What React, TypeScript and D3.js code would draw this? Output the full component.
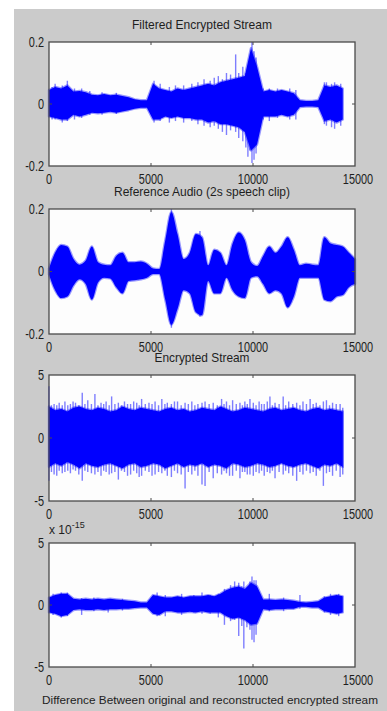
import React, { useEffect, useRef } from 'react';
import * as d3 from 'd3';

const WIDTH = 387;
const HEIGHT = 711;

// envelope samples are taken every STEP points of the signal
const STEP = 300;

const X_TICKS = [0, 5000, 10000, 15000];
const AUDIO_TICKS = [-0.2, 0, 0.2];
const STREAM_TICKS = [-5, 0, 5];

const filteredUpper = [0.045, 0.055, 0.05, 0.06, 0.04, 0.042, 0.038, 0.03, 0.028, 0.032, 0.028, 0.03, 0.026, 0.022, 0.015, 0.012, 0.012, 0.065, 0.05, 0.045, 0.04, 0.05, 0.045, 0.05, 0.055, 0.06, 0.065, 0.06, 0.07, 0.075, 0.08, 0.085, 0.09, 0.18, 0.12, 0.04, 0.045, 0.04, 0.045, 0.04, 0.035, 0.012, 0.01, 0.01, 0.012, 0.06, 0.055, 0.06, 0.05];
const filteredLower = [-0.04, -0.045, -0.05, -0.05, -0.035, -0.04, -0.035, -0.028, -0.03, -0.028, -0.025, -0.028, -0.024, -0.02, -0.015, -0.012, -0.012, -0.05, -0.05, -0.04, -0.045, -0.04, -0.045, -0.045, -0.05, -0.05, -0.06, -0.055, -0.065, -0.065, -0.07, -0.075, -0.09, -0.15, -0.13, -0.04, -0.04, -0.04, -0.035, -0.04, -0.035, -0.01, -0.008, -0.008, -0.01, -0.055, -0.05, -0.06, -0.05];
const filteredSpikes: [number, number, number][] = [[150, 0.055, -0.05], [300, 0.065, -0.05], [650, 0.06, -0.06], [900, 0.075, -0.055], [1250, 0.05, -0.05], [1600, 0.05, -0.045], [2000, 0.042, -0.035], [2600, 0.038, -0.035], [3300, 0.036, -0.032], [5150, 0.075, -0.06], [5450, 0.065, -0.055], [5900, 0.055, -0.06], [6200, 0.06, -0.055], [6600, 0.06, -0.06], [7000, 0.065, -0.055], [7300, 0.07, -0.065], [7600, 0.08, -0.07], [7900, 0.075, -0.075], [8100, 0.085, -0.07], [8300, 0.09, -0.08], [8500, 0.08, -0.09], [8700, 0.1, -0.1], [8900, 0.095, -0.085], [9150, 0.16, -0.09], [9300, 0.1, -0.11], [9500, 0.12, -0.12], [9650, 0.1, -0.14], [9750, 0.11, -0.17], [9850, 0.14, -0.15], [9950, 0.2, -0.19], [10050, 0.17, -0.18], [10150, 0.15, -0.16], [10500, 0.05, -0.05], [10800, 0.05, -0.055], [11200, 0.05, -0.045], [11800, 0.05, -0.05], [12100, 0.045, -0.05], [13500, 0.07, -0.065], [13600, 0.07, -0.07], [13850, 0.065, -0.075], [14000, 0.07, -0.08], [14300, 0.065, -0.07]];

const referenceUpper = [0.01, 0.06, 0.085, 0.08, 0.04, 0.022, 0.035, 0.08, 0.03, 0.022, 0.02, 0.05, 0.06, 0.03, 0.03, 0.032, 0.025, 0.01, 0.008, 0.1, 0.19, 0.12, 0.04, 0.06, 0.12, 0.11, 0.02, 0.07, 0.06, 0.02, 0.09, 0.125, 0.1, 0.03, 0.018, 0.05, 0.08, 0.06, 0.08, 0.11, 0.07, 0.02, 0.025, 0.022, 0.02, 0.11, 0.09, 0.085, 0.08, 0.06, 0.04];
const referenceLower = [-0.01, -0.06, -0.085, -0.08, -0.045, -0.025, -0.04, -0.09, -0.035, -0.02, -0.022, -0.05, -0.07, -0.03, -0.028, -0.025, -0.02, -0.008, -0.008, -0.09, -0.17, -0.12, -0.06, -0.07, -0.13, -0.14, -0.03, -0.07, -0.07, -0.02, -0.06, -0.08, -0.085, -0.02, -0.015, -0.04, -0.07, -0.06, -0.07, -0.115, -0.08, -0.02, -0.02, -0.02, -0.02, -0.09, -0.095, -0.08, -0.075, -0.05, -0.04];
const referenceSpikes: [number, number, number][] = [[6000, 0.2, -0.18], [7400, 0.13, -0.145]];

const encryptedUpper = [2.5, 2.2, 2.3, 2.1, 2.4, 2.5, 2.3, 2.2, 2.4, 2.3, 2.1, 2.2, 2.5, 2.3, 2.2, 2.4, 2.3, 2.2, 2.1, 2.3, 2.4, 2.2, 2.3, 2.1, 2.2, 2.4, 2.3, 2.2, 2.5, 2.3, 2.1, 2.2, 2.4, 2.3, 2.2, 2.1, 2.3, 2.4, 2.2, 2.3, 2.4, 2.2, 2.1, 2.3, 2.4, 2.2, 2.3, 2.2, 2.1];
const encryptedLower = [-2.3, -2.0, -2.2, -1.9, -2.1, -2.4, -2.0, -2.2, -2.3, -2.1, -2.0, -2.2, -2.4, -2.1, -2.0, -2.3, -2.2, -2.0, -2.1, -2.4, -2.2, -2.0, -2.3, -2.1, -2.2, -2.0, -2.3, -2.1, -2.2, -2.4, -2.0, -2.1, -2.3, -2.2, -2.0, -2.1, -2.3, -2.2, -2.0, -2.2, -2.3, -2.1, -2.0, -2.2, -2.4, -2.1, -2.2, -2.0, -2.3];
const encryptedSpikes: [number, number, number][] = [[0, 4.1, -3.4], [120, 2.6, -2.7], [250, 2.7, -2.9], [380, 2.6, -3.0], [500, 2.8, -2.6], [650, 2.6, -2.8], [780, 2.9, -2.7], [920, 2.6, -2.6], [1050, 2.7, -2.8], [1180, 2.9, -2.5], [1300, 2.8, -2.6], [1460, 2.6, -2.9], [1630, 3.6, -3.4], [1760, 2.7, -2.6], [1900, 3.0, -2.7], [2080, 2.7, -2.8], [2250, 3.5, -2.9], [2400, 2.6, -2.7], [2550, 2.8, -3.0], [2680, 2.7, -2.6], [2800, 2.9, -2.7], [2950, 2.6, -2.9], [3070, 3.3, -2.8], [3230, 2.7, -2.7], [3400, 2.8, -3.3], [3550, 2.6, -2.6], [3700, 2.9, -2.7], [3850, 2.7, -3.0], [4000, 2.7, -2.9], [4150, 2.9, -2.6], [4300, 2.8, -2.8], [4420, 2.6, -3.1], [4540, 3.1, -3.0], [4720, 2.7, -2.6], [4900, 2.8, -2.7], [5050, 2.7, -3.0], [5200, 2.9, -2.9], [5370, 2.6, -2.7], [5530, 3.1, -2.8], [5680, 2.7, -2.6], [5800, 2.8, -3.0], [6000, 2.7, -3.1], [6150, 2.9, -2.6], [6300, 2.9, -2.8], [6480, 2.6, -2.9], [6670, 2.8, -4.0], [6830, 2.7, -2.7], [7000, 2.9, -2.9], [7150, 2.6, -2.6], [7300, 2.7, -3.0], [7500, 2.8, -3.7], [7650, 2.9, -3.8], [7850, 2.7, -2.7], [8050, 2.8, -3.2], [8250, 2.6, -2.8], [8460, 3.1, -2.9], [8580, 2.7, -2.6], [8700, 2.9, -2.8], [8850, 2.6, -3.0], [9000, 3.0, -3.0], [9180, 2.7, -2.6], [9360, 2.8, -3.2], [9480, 2.6, -2.7], [9600, 2.9, -2.7], [9720, 2.7, -2.9], [9850, 3.1, -2.9], [10015, 2.8, -3.0], [10150, 2.6, -2.7], [10300, 2.9, -2.8], [10420, 2.7, -2.6], [10550, 2.7, -3.0], [10700, 2.9, -2.7], [10830, 3.3, -2.8], [10950, 2.6, -2.6], [11080, 2.8, -3.2], [11280, 2.7, -2.7], [11480, 3.3, -2.9], [11600, 2.6, -2.6], [11750, 2.9, -2.8], [11950, 2.7, -3.0], [12140, 2.8, -3.4], [12300, 2.6, -2.7], [12450, 2.9, -2.9], [12620, 2.7, -2.6], [12800, 3.1, -2.8], [12950, 2.7, -2.7], [13100, 2.8, -3.0], [13280, 2.6, -2.6], [13450, 2.9, -3.8], [13600, 3.0, -2.8], [13750, 2.6, -2.7], [13900, 2.8, -3.0], [14080, 2.7, -2.6], [14270, 2.7, -3.1], [14400, 2.4, -2.9]];

// difference values are in units of 1e-15
const differenceUpper = [0.6, 0.8, 0.9, 0.9, 0.5, 0.45, 0.5, 0.45, 0.5, 0.45, 0.5, 0.45, 0.4, 0.35, 0.3, 0.2, 0.2, 0.8, 0.7, 0.6, 0.6, 0.7, 0.6, 0.7, 0.7, 0.7, 0.8, 0.7, 0.9, 1.2, 1.4, 1.5, 1.3, 1.8, 1.5, 0.45, 0.45, 0.4, 0.45, 0.4, 0.35, 0.25, 0.2, 0.25, 0.3, 0.6, 0.7, 0.8, 0.7];
const differenceLower = [-0.6, -0.7, -0.9, -0.8, -0.4, -0.35, -0.4, -0.4, -0.35, -0.4, -0.35, -0.35, -0.3, -0.3, -0.25, -0.2, -0.2, -0.7, -0.8, -0.5, -0.5, -0.6, -0.6, -0.55, -0.6, -0.5, -0.6, -0.6, -0.6, -0.9, -1.1, -1.0, -1.2, -1.6, -1.5, -0.35, -0.4, -0.35, -0.35, -0.3, -0.3, -0.15, -0.15, -0.2, -0.2, -0.5, -0.6, -0.7, -0.6];
const differenceSpikes: [number, number, number][] = [[200, 0.9, -0.8], [600, 1.0, -1.0], [900, 1.0, -0.9], [1600, 0.55, -0.8], [2200, 0.6, -0.5], [2900, 0.5, -0.6], [3600, 0.5, -0.45], [5300, 1.0, -0.9], [5700, 0.8, -0.9], [6500, 0.9, -0.8], [7100, 0.8, -0.6], [7500, 1.0, -0.7], [7900, 0.8, -0.7], [8300, 0.9, -1.0], [8600, 1.3, -1.6], [8900, 1.6, -1.3], [9100, 1.9, -1.2], [9300, 1.8, -2.5], [9450, 1.5, -1.7], [9550, 1.9, -3.5], [9700, 1.3, -1.8], [9850, 1.9, -2.0], [9950, 2.3, -2.8], [10050, 2.0, -3.0], [10150, 2.0, -2.4], [10800, 0.9, -0.5], [11500, 0.6, -0.5], [12300, 0.8, -0.3], [13500, 0.7, -0.6], [13800, 0.9, -0.8], [14200, 0.9, -0.9]];

const TITLES = ['Filtered Encrypted Stream', 'Reference Audio (2s speech clip)', 'Encrypted Stream'];
const X_LABEL = 'Difference Between original and reconstructed encrypted stream';

const FONT = "'Liberation Sans', Arial, sans-serif";
const BLUE = '#0000ff';
const INK = '#1e1e1e';

// squeeze a text node so it looks like the narrow MATLAB font
function narrow(node: SVGTextElement | null, factor: number, width?: number) {
  if (!node) return;
  const w = width ?? node.getComputedTextLength() * factor;
  node.setAttribute('textLength', String(w));
  node.setAttribute('lengthAdjust', 'spacingAndGlyphs');
}

const App: React.FC = () => {
  const svgRef = useRef<SVGSVGElement>(null);

  useEffect(() => {
    if (!svgRef.current) return;
    const svg = d3.select(svgRef.current);
    svg.selectAll('*').remove();

    // figure background
    svg.append('rect').attr('x', 14).attr('y', 9).attr('width', WIDTH - 14).attr('height', HEIGHT - 9).attr('fill', '#cbcbcb');

    const left = 49;
    const right = 355;
    const x = d3.scaleLinear().domain([0, 15000]).range([left, right]);

    const panels = [
      { title: TITLES[0], upper: filteredUpper, lower: filteredLower, spikes: filteredSpikes, ticks: AUDIO_TICKS, top: 42, bottom: 166, titleY: 29, titleW: 140, smooth: false },
      { title: TITLES[1], upper: referenceUpper, lower: referenceLower, spikes: referenceSpikes, ticks: AUDIO_TICKS, top: 209, bottom: 334, titleY: 196, titleW: 176, smooth: true },
      { title: TITLES[2], upper: encryptedUpper, lower: encryptedLower, spikes: encryptedSpikes, ticks: STREAM_TICKS, top: 375, bottom: 501, titleY: 362, titleW: 95, smooth: false },
      { title: '', upper: differenceUpper, lower: differenceLower, spikes: differenceSpikes, ticks: STREAM_TICKS, top: 543, bottom: 667, titleY: 0, titleW: 0, smooth: false },
    ];

    panels.forEach((p) => {
      const y = d3.scaleLinear().domain([p.ticks[0], p.ticks[2]]).range([p.bottom, p.top]);
      const g = svg.append('g');

      g.append('rect').attr('x', left).attr('y', p.top).attr('width', right - left).attr('height', p.bottom - p.top).attr('fill', '#fdfdfd');

      const area = d3.area<number>()
        .x((_, i) => x(i * STEP))
        .y0((_, i) => y(p.lower[i]))
        .y1((d) => y(d))
        .curve(p.smooth ? d3.curveMonotoneX : d3.curveLinear);

      g.selectAll('.spike')
        .data(p.spikes)
        .enter()
        .append('line')
        .attr('x1', (d) => x(d[0]))
        .attr('x2', (d) => x(d[0]))
        .attr('y1', (d) => y(d[1]))
        .attr('y2', (d) => y(d[2]))
        .attr('stroke', BLUE)
        .attr('stroke-opacity', 0.5)
        .attr('stroke-width', 1.4);

      g.append('path')
        .attr('d', area(p.upper))
        .attr('fill', BLUE)
        .attr('stroke', BLUE)
        .attr('stroke-opacity', 0.4)
        .attr('stroke-width', 2.4)
        .attr('stroke-linejoin', 'round');

      // box
      g.append('rect').attr('x', left).attr('y', p.top).attr('width', right - left).attr('height', p.bottom - p.top)
        .attr('fill', 'none').attr('stroke', '#4a4a4a').attr('stroke-width', 1.3);

      // inward tick marks
      X_TICKS.slice(1, 3).forEach((t) => {
        g.append('line').attr('x1', x(t)).attr('x2', x(t)).attr('y1', p.top).attr('y2', p.top + 3).attr('stroke', '#4a4a4a');
        g.append('line').attr('x1', x(t)).attr('x2', x(t)).attr('y1', p.bottom).attr('y2', p.bottom - 3).attr('stroke', '#4a4a4a');
      });
      g.append('line').attr('x1', left).attr('x2', left + 3).attr('y1', y(0)).attr('y2', y(0)).attr('stroke', '#4a4a4a');
      g.append('line').attr('x1', right).attr('x2', right - 3).attr('y1', y(0)).attr('y2', y(0)).attr('stroke', '#4a4a4a');

      // tick labels
      g.selectAll('.xt')
        .data(X_TICKS)
        .enter()
        .append('text')
        .attr('x', (d) => x(d) + (d === 15000 ? 3 : 0))
        .attr('y', p.bottom + 18)
        .attr('text-anchor', 'middle')
        .attr('font-family', FONT)
        .attr('font-size', 14)
        .attr('fill', INK)
        .text((d) => String(d))
        .each(function () { narrow(this as SVGTextElement, 0.78); });

      g.selectAll('.yt')
        .data(p.ticks)
        .enter()
        .append('text')
        .attr('x', left - 5)
        .attr('y', (d) => y(d))
        .attr('dy', '0.35em')
        .attr('text-anchor', 'end')
        .attr('font-family', FONT)
        .attr('font-size', 14)
        .attr('fill', INK)
        .text((d) => String(d))
        .each(function () { narrow(this as SVGTextElement, 0.78); });

      if (p.title) {
        const t = g.append('text')
          .attr('x', 202)
          .attr('y', p.titleY)
          .attr('text-anchor', 'middle')
          .attr('font-family', FONT)
          .attr('font-size', 13)
          .attr('fill', INK)
          .text(p.title);
        narrow(t.node(), 1, p.titleW);
      }
    });

    // exponent label for the last panel
    const exp = svg.append('text').attr('x', 49).attr('y', 534).attr('font-family', FONT).attr('font-size', 12).attr('fill', INK);
    exp.append('tspan').text('x 10');
    exp.append('tspan').attr('dy', -6).attr('font-size', 9).text('-15');

    const xl = svg.append('text')
      .attr('x', 210)
      .attr('y', 704)
      .attr('text-anchor', 'middle')
      .attr('font-family', FONT)
      .attr('font-size', 11.5)
      .attr('fill', INK)
      .text(X_LABEL);
    narrow(xl.node(), 1, 336);
  }, []);

  return (
    <div style={{ position: 'absolute', left: 0, top: 0 }}>
      <svg ref={svgRef} width={WIDTH} height={HEIGHT} style={{ display: 'block', background: '#ffffff' }}></svg>
    </div>
  );
};

export default App;
